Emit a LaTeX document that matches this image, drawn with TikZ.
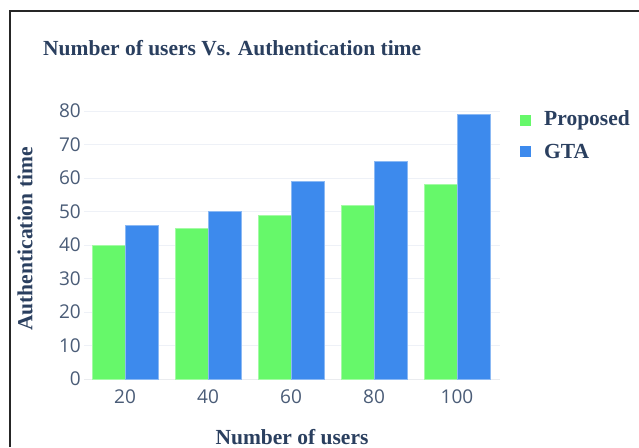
\documentclass[tikz,border=0pt]{standalone}
\usepackage{fontspec}
\setmainfont{Liberation Serif}
\newfontfamily\tickfont{Open Sans}
\definecolor{ink}{HTML}{2A3F5F}
\definecolor{propg}{HTML}{66F86A}
\definecolor{gtab}{HTML}{3D8AED}
\definecolor{gridc}{HTML}{EEF1F7}
\begin{document}
\begin{tikzpicture}[x=1pt,y=-1pt,
  tick/.style={font=\tickfont\fontsize{19}{19}\selectfont, text=ink!85, inner sep=0pt},
  ttl/.style={font=\bfseries\fontsize{21.5}{21.5}\selectfont, text=ink, inner sep=0pt},
  leg/.style={font=\bfseries\fontsize{21.5}{21.5}\selectfont, text=ink, inner sep=0pt, anchor=west},
  gridl/.style={draw=gridc, line width=1pt}]
\useasboundingbox (0,0) rectangle (639,447);
\fill[white] (0,0) rectangle (639,447);
% frame
\draw[line width=2pt, black!85] (10,447) -- (10,11) -- (639,11);
% title
\node[ttl, anchor=west] (title) at (43,48) {Number of users Vs. Authentication time};
% grid
\foreach \v in {10,20,...,80} {
  \draw[gridl] (84,{379-3.35*\v}) -- (500,{379-3.35*\v});
}
\draw[draw=ink!10, line width=1pt] (84,379) -- (500,379);
% y tick labels
\foreach \v in {0,10,...,80} {
  \node[tick, anchor=east] (yt\v) at (81,{379-3.35*\v}) {\v};
}
% bars
\foreach \x/\c/\p/\g in {1/125/40/46, 2/208/45/50, 3/291/49/59, 4/374/52/65, 5/457/58/79} {
  \fill[propg] (\c-33,379) rectangle (\c,{379-3.35*\p});
  \draw[propg!60!white, line width=0.6pt] (\c-33,379) rectangle (\c,{379-3.35*\p});
  \fill[gtab] (\c,379) rectangle (\c+33,{379-3.35*\g});
  \draw[gtab!60!white, line width=0.6pt] (\c,379) rectangle (\c+33,{379-3.35*\g});
}
% x tick labels
\foreach \c/\l in {125/20, 208/40, 291/60, 374/80, 457/100} {
  \node[tick] (xt\l) at (\c,397) {\l};
}
% axis titles
\node[ttl] (xtitle) at (292,437) {Number of users};
\node[ttl, rotate=90] (ytitle) at (25,239) {Authentication time};
% legend
\fill[propg] (520,115) rectangle (531,126);
\node[leg] (lp) at (544,120.5) {Proposed};
\fill[gtab] (520,146) rectangle (531,157);
\node[leg] (lg) at (544,151.5) {GTA};
\end{tikzpicture}
\end{document}
